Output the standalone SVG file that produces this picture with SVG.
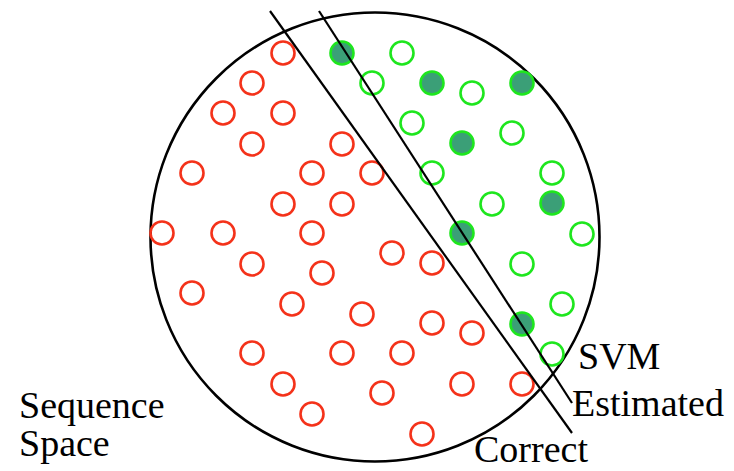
<svg xmlns="http://www.w3.org/2000/svg" width="734" height="471" viewBox="0 0 734 471">
<defs>
<style>
.r{fill:none;stroke:#f4321a;stroke-width:2.6}
.g{fill:none;stroke:#1ee61e;stroke-width:2.6}
.f{fill:#3b9f77;stroke:#1ee61e;stroke-width:2.6}
.t{font-size:38px;fill:#000}
.ln{stroke:#000;stroke-width:2.2;fill:none}
</style>
</defs>
<rect width="734" height="471" fill="#fff"/>
<g id="space">
<circle cx="375" cy="237" r="224.5" fill="none" stroke="#000" stroke-width="2.6"/>
</g>
<g id="red-points">
<circle class="r" cx="283" cy="53" r="11.5"/>
<circle class="r" cx="252" cy="83" r="11.5"/>
<circle class="r" cx="223" cy="113" r="11.5"/>
<circle class="r" cx="283" cy="113" r="11.5"/>
<circle class="r" cx="252" cy="144" r="11.5"/>
<circle class="r" cx="342" cy="144" r="11.5"/>
<circle class="r" cx="192" cy="173" r="11.5"/>
<circle class="r" cx="312" cy="173" r="11.5"/>
<circle class="r" cx="372" cy="173" r="11.5"/>
<circle class="r" cx="283" cy="204" r="11.5"/>
<circle class="r" cx="342" cy="204" r="11.5"/>
<circle class="r" cx="162" cy="233" r="11.5"/>
<circle class="r" cx="223" cy="233" r="11.5"/>
<circle class="r" cx="312" cy="233" r="11.5"/>
<circle class="r" cx="252" cy="264" r="11.5"/>
<circle class="r" cx="392" cy="253" r="11.5"/>
<circle class="r" cx="432" cy="263" r="11.5"/>
<circle class="r" cx="322" cy="273" r="11.5"/>
<circle class="r" cx="192" cy="293" r="11.5"/>
<circle class="r" cx="292" cy="304" r="11.5"/>
<circle class="r" cx="362" cy="314" r="11.5"/>
<circle class="r" cx="432" cy="323" r="11.5"/>
<circle class="r" cx="472" cy="333" r="11.5"/>
<circle class="r" cx="252" cy="353" r="11.5"/>
<circle class="r" cx="342" cy="353" r="11.5"/>
<circle class="r" cx="402" cy="353" r="11.5"/>
<circle class="r" cx="283" cy="384" r="11.5"/>
<circle class="r" cx="382" cy="393" r="11.5"/>
<circle class="r" cx="462" cy="384" r="11.5"/>
<circle class="r" cx="522" cy="384" r="11.5"/>
<circle class="r" cx="312" cy="414" r="11.5"/>
<circle class="r" cx="422" cy="434" r="11.5"/>
</g>
<g id="green-points">
<circle class="g" cx="372" cy="83" r="11.5"/>
<circle class="g" cx="402" cy="53" r="11.5"/>
<circle class="g" cx="472" cy="93" r="11.5"/>
<circle class="g" cx="412" cy="123" r="11.5"/>
<circle class="g" cx="512" cy="133" r="11.5"/>
<circle class="g" cx="432" cy="173" r="11.5"/>
<circle class="g" cx="552" cy="173" r="11.5"/>
<circle class="g" cx="492" cy="204" r="11.5"/>
<circle class="g" cx="582" cy="234" r="11.5"/>
<circle class="g" cx="522" cy="264" r="11.5"/>
<circle class="g" cx="562" cy="304" r="11.5"/>
<circle class="g" cx="552" cy="354" r="11.5"/>
</g>
<g id="support-vectors">
<circle class="f" cx="342" cy="53" r="11.5"/>
<circle class="f" cx="432" cy="83" r="11.5"/>
<circle class="f" cx="522" cy="83" r="11.5"/>
<circle class="f" cx="462" cy="143" r="11.5"/>
<circle class="f" cx="552" cy="203" r="11.5"/>
<circle class="f" cx="462" cy="233" r="11.5"/>
<circle class="f" cx="522" cy="324" r="11.5"/>
</g>
<g id="connectors">
<line class="ln" x1="270" y1="11" x2="572" y2="433"/>
<line class="ln" x1="319" y1="11" x2="572" y2="403"/>
</g>
<g id="labels" font-family="'Liberation Serif', 'DejaVu Serif', serif">
<text class="t" x="578" y="369">SVM</text>
<text class="t" x="572" y="416">Estimated</text>
<text class="t" x="474" y="462">Correct</text>
<text class="t" x="19" y="418">Sequence</text>
<text class="t" x="19" y="456">Space</text>
</g>
</svg>
